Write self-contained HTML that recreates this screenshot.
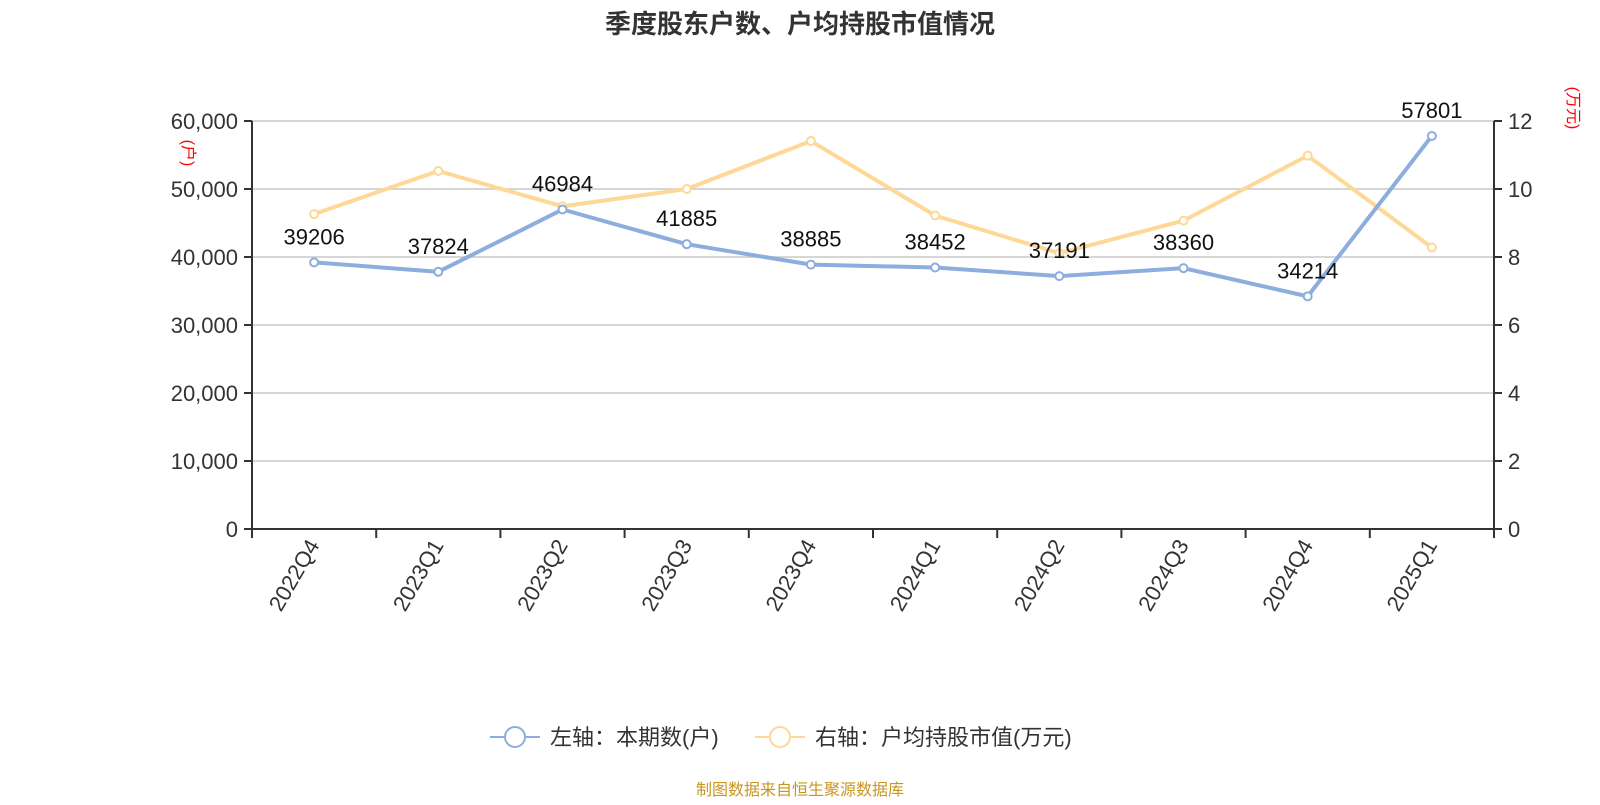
<!DOCTYPE html>
<html><head><meta charset="utf-8"><style>
body{margin:0;background:#fff;}
svg{font-family:"Liberation Sans","Noto Sans CJK SC",sans-serif;}
</style></head><body>
<svg id="c" width="1600" height="800">
<text x="800" y="33" text-anchor="middle" font-size="26" font-weight="bold" fill="#333">季度股东户数、户均持股市值情况</text>
<g id="grid"></g><g id="axes"></g><g id="series"></g>
<g>
<g><line x1="490" y1="737" x2="540" y2="737" stroke="#8dadde" stroke-width="2"/><circle cx="515" cy="737" r="10" fill="#fff" stroke="#8dadde" stroke-width="2"/><text x="550" y="745" font-size="22" fill="#333">左轴：本期数(户)</text></g>
<g><line x1="755" y1="737" x2="805" y2="737" stroke="#fdd896" stroke-width="2"/><circle cx="780" cy="737" r="10" fill="#fff" stroke="#fdd896" stroke-width="2"/><text x="815" y="745" font-size="22" fill="#333">右轴：户均持股市值(万元)</text></g>
</g>
<text x="800" y="795" text-anchor="middle" font-size="16" fill="#c8961e">制图数据来自恒生聚源数据库</text>
<text x="0" y="0" transform="translate(183,153) rotate(90)" text-anchor="middle" font-size="16" fill="red">(户)</text>
<text x="0" y="0" transform="translate(1568,108) rotate(90)" text-anchor="middle" font-size="16" fill="red">(万元)</text>
</svg>
<script>
const categories=["2022Q4","2023Q1","2023Q2","2023Q3","2023Q4","2024Q1","2024Q2","2024Q3","2024Q4","2025Q1"];
const holders=[39206,37824,46984,41885,38885,38452,37191,38360,34214,57801];
const avgValue=[9.26,10.53,9.49,10.0,11.41,9.22,8.11,9.07,10.98,8.28];
const leftTicks=[0,10000,20000,30000,40000,50000,60000];
const rightTicks=[0,2,4,6,8,10,12];
const NS="http://www.w3.org/2000/svg";
const L=252,R=1494,T=121,B=529;
const bw=(R-L)/categories.length;
const xs=i=>L+bw*(i+0.5);
const yl=v=>B-(v/60000)*(B-T);
const yr=v=>B-(v/12)*(B-T);
function mk(tag,attrs,parent,txt){const e=document.createElementNS(NS,tag);for(const k in attrs)e.setAttribute(k,attrs[k]);if(txt!==undefined)e.textContent=txt;parent.appendChild(e);return e;}
const grid=document.getElementById('grid'),axes=document.getElementById('axes'),ser=document.getElementById('series');
leftTicks.forEach((t,i)=>{const y=yl(t);
 if(t>0){const g=mk('line',{x1:L,x2:R,y1:y,y2:y,stroke:'#c8c8c8','stroke-width':1.5},grid);
 
 }
 mk('line',{x1:L-8,x2:L,y1:y,y2:y,stroke:'#333','stroke-width':2},axes);
 const tx=mk('text',{x:L-14,y:y+8,'text-anchor':'end','font-size':22,fill:'#333'},axes,t.toLocaleString('en-US'));
 
 
});
rightTicks.forEach(t=>{const y=yr(t);
 mk('line',{x1:R,x2:R+8,y1:y,y2:y,stroke:'#333','stroke-width':2},axes);
 const tx=mk('text',{x:R+14,y:y+8,'font-size':22,fill:'#333'},axes,String(t));
 
 
});
mk('line',{x1:L,x2:L,y1:T,y2:B,stroke:'#333','stroke-width':2},axes);
mk('line',{x1:R,x2:R,y1:T,y2:B,stroke:'#333','stroke-width':2},axes);
mk('line',{x1:L,x2:R,y1:B,y2:B,stroke:'#333','stroke-width':2},axes);
for(let i=0;i<=categories.length;i++){const x=L+bw*i;mk('line',{x1:x,x2:x,y1:B,y2:B+9,stroke:'#333','stroke-width':2},axes);}
categories.forEach((c,i)=>{const x=xs(i);
 const tx=mk('text',{transform:`translate(${x+6},${B+16}) rotate(-60)`,'text-anchor':'end','font-size':22,fill:'#333'},axes,c);
 
 
});
function line(vals,yf,color,name,labels){
 const p=mk('polyline',{points:vals.map((v,i)=>xs(i)+','+yf(v)).join(' '),fill:'none',stroke:color,'stroke-width':4},ser);
 
 
 vals.forEach((v,i)=>{
  const c=mk('circle',{cx:xs(i),cy:yf(v),r:4,fill:'#fff',stroke:color,'stroke-width':2},ser);
  
  
  if(labels){const t=mk('text',{x:xs(i),y:yf(v)-18,'text-anchor':'middle','font-size':22,fill:'#111'},ser,String(v));
  
  }
 });
}
line(avgValue,yr,'#fdd896','avg-value',false);
line(holders,yl,'#8dadde','holders',true);
</script>
</body></html>
